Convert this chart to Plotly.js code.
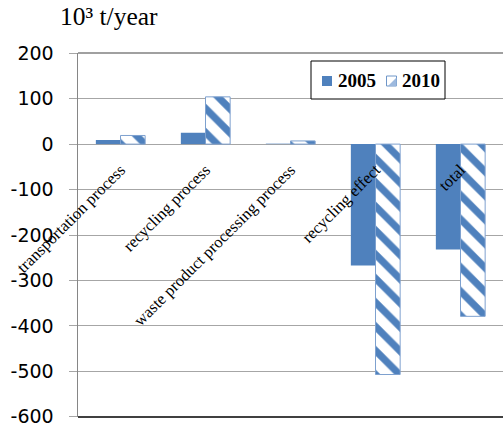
<!DOCTYPE html>
<html>
<head>
<meta charset="utf-8">
<script src="https://cdn.plot.ly/plotly-3.0.1.min.js"></script>
<style>
  html, body { margin: 0; padding: 0; background: #ffffff; }
  #chart { width: 503px; height: 427px; }
</style>
</head>
<body>
<div id="chart"></div>
<script>
// Process categories and emission values (10^3 t/year)
const categories = [
  'transportation process',
  'recycling process',
  'waste product processing process',
  'recycling effect',
  'total'
];
const values2005 = [9, 25, 1, -267, -232];
const values2010 = [19, 104, 7, -507, -379];
const yTicks = [200, 100, 0, -100, -200, -300, -400, -500, -600];
const seriesNames = ['2005', '2010'];
const unitLabel = '10³ t/year';

const blue = '#4F81BD';
const serif = 'Liberation Serif';

// plot area in pixels: left 78, right 503, top 53, bottom 417
const W = 503, H = 427, L = 78, R = 0, T = 53, B = 10;
const plotW = W - L - R, plotH = H - T - B;
const px = v => (v - L) / plotW;          // pixel x -> paper x
const py = v => (H - B - v) / plotH;      // pixel y -> paper y

const traces = [
  {
    type: 'bar',
    name: seriesNames[0],
    x: categories,
    y: values2005,
    marker: { color: blue, line: { width: 0 } },
    showlegend: false
  },
  {
    type: 'bar',
    name: seriesNames[1],
    x: categories,
    y: values2010,
    marker: {
      color: '#ffffff',
      line: { color: '#7EA1CF', width: 1 },
      pattern: {
        shape: '\\',
        fgcolor: blue,
        bgcolor: '#ffffff',
        size: 17,
        solidity: 0.42
      }
    },
    showlegend: false
  }
];

// legend box, keys and labels
const legendShapes = [
  { type: 'rect', xref: 'paper', yref: 'paper',
    x0: px(311), x1: px(445), y0: py(99), y1: py(61),
    fillcolor: '#ffffff', line: { color: '#000000', width: 1 } },
  { type: 'rect', xref: 'paper', yref: 'paper',
    x0: px(322), x1: px(332), y0: py(86), y1: py(76),
    fillcolor: blue, line: { width: 0 } },
  { type: 'rect', xref: 'paper', yref: 'paper',
    x0: px(386.5), x1: px(396.5), y0: py(86), y1: py(76),
    fillcolor: '#ffffff', line: { color: '#6F96C8', width: 1 } },
  { type: 'path', xref: 'paper', yref: 'paper',
    path: 'M ' + px(396.5) + ' ' + py(77.5) + ' L ' + px(396.5) + ' ' + py(86) +
          ' L ' + px(388) + ' ' + py(86) + ' Z',
    fillcolor: '#9DB9DE', line: { width: 0 } }
];

const legendLabels = [
  { text: seriesNames[0], x: px(336.5) },
  { text: seriesNames[1], x: px(400.5) }
].map(d => ({
  xref: 'paper', yref: 'paper',
  x: d.x, y: py(80.5),
  xanchor: 'left', yanchor: 'middle',
  text: '<b>' + d.text + '</b>',
  showarrow: false,
  font: { family: serif, size: 19, color: '#000000' },
  borderpad: 0
}));

// unit label above the value axis
const unitAnnotation = {
  xref: 'paper', yref: 'paper',
  x: px(59), y: py(17),
  xanchor: 'left', yanchor: 'middle',
  text: unitLabel,
  showarrow: false,
  font: { family: serif, size: 25.5, color: '#000000' },
  borderpad: 0
};

const layout = {
  width: W,
  height: H,
  margin: { l: L, r: R, t: T, b: B },
  paper_bgcolor: '#ffffff',
  plot_bgcolor: '#ffffff',
  barmode: 'group',
  bargap: 0.42,
  bargroupgap: 0,
  showlegend: false,
  xaxis: {
    type: 'category',
    anchor: 'free',
    position: 0.75,
    showline: false,
    showgrid: false,
    zeroline: false,
    ticks: '',
    tickangle: -45,
    ticklabelstandoff: 12,
    tickfont: { family: serif, size: 16.5, color: '#000000' },
    fixedrange: true
  },
  yaxis: {
    range: [-600.5, 200.5],
    tickvals: yTicks,
    ticktext: yTicks.map(String),
    ticklabeloverflow: 'allow',
    showgrid: true,
    gridcolor: '#A6A6A6',
    gridwidth: 1,
    zeroline: false,
    showline: true,
    linecolor: '#868686',
    linewidth: 1.5,
    ticks: 'outside',
    ticklen: 8,
    tickcolor: '#A6A6A6',
    ticklabelstandoff: 11,
    tickfont: { family: 'DejaVu Sans', size: 19, color: '#000000' },
    fixedrange: true
  },
  shapes: [
    // upper border of the plot area
    { type: 'line', xref: 'paper', yref: 'paper', x0: 0, x1: 1, y0: 1, y1: 1,
      line: { color: '#808080', width: 1.5 } },
    // lower border of the plot area
    { type: 'line', xref: 'paper', yref: 'paper', x0: 0, x1: 1, y0: 0, y1: 0,
      line: { color: '#000000', width: 1.5 } }
  ].concat(legendShapes),
  annotations: [unitAnnotation].concat(legendLabels)
};

Plotly.newPlot('chart', traces, layout, { displayModeBar: false, staticPlot: true });
</script>
</body>
</html>
